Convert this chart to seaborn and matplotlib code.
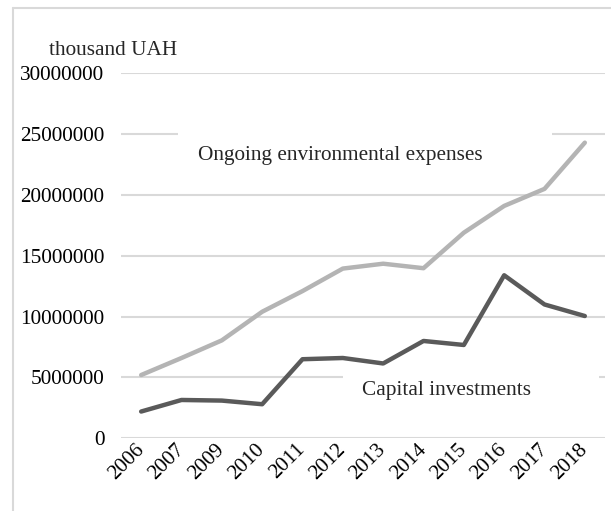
import pandas as pd
import matplotlib.pyplot as plt
import seaborn as sns
from matplotlib.patches import Rectangle

years = ['2006', '2007', '2009', '2010', '2011', '2012', '2013',
         '2014', '2015', '2016', '2017', '2018']
ongoing = [5200000, 6600000, 8050000, 10400000, 12100000, 13950000, 14350000,
           13980000, 16900000, 19100000, 20500000, 24300000]
capital = [2200000, 3150000, 3100000, 2800000, 6500000, 6600000, 6150000,
           8000000, 7670000, 13400000, 11000000, 10050000]
series_names = ['Ongoing environmental expenses', 'Capital investments']

df = pd.concat([
    pd.DataFrame({'year': years, 'value': ongoing, 'series': series_names[0]}),
    pd.DataFrame({'year': years, 'value': capital, 'series': series_names[1]}),
])

sns.set_style('white')
plt.rcParams['font.family'] = ['Liberation Serif', 'DejaVu Serif']
fs = 15.3

fig = plt.figure(figsize=(6.11, 5.11), dpi=100)
ax = fig.add_axes([121 / 611, 72.7 / 511, 484 / 611, 365 / 511])

palette = {series_names[0]: '#b4b4b4', series_names[1]: '#5a5a5a'}
sns.lineplot(data=df, x='year', y='value', hue='series', palette=palette,
             linewidth=3.2, legend=False, ax=ax, zorder=3,
             solid_joinstyle='round', solid_capstyle='round')

ax.set_ylim(0, 30000000)
ax.set_xlim(-0.5, len(years) - 0.5)
ax.set_yticks(range(0, 30000001, 5000000))
ax.set_yticklabels([str(v) for v in range(0, 30000001, 5000000)])
ax.yaxis.grid(True, color='#d9d9d9', linewidth=1.5, zorder=0)
ax.xaxis.grid(False)
for s in ax.spines.values():
    s.set_visible(False)
ax.tick_params(axis='both', length=0, labelsize=fs, colors='black')
ax.tick_params(axis='y', pad=12)
ax.tick_params(axis='x', pad=6)
for lbl in ax.get_xticklabels():
    lbl.set_rotation(45)
    lbl.set_ha('right')
    lbl.set_va('center')
    lbl.set_rotation_mode('anchor')
ax.set_xlabel('')
ax.set_ylabel('')

# white boxes behind the series labels (cut the gridlines)
ax.add_patch(Rectangle((0.118, 0.70), 0.772, 0.15, transform=ax.transAxes,
                       facecolor='white', edgecolor='none', zorder=2))
ax.add_patch(Rectangle((0.458, 0.064), 0.53, 0.136, transform=ax.transAxes,
                       facecolor='white', edgecolor='none', zorder=2))
ax.text(0.4525, 0.774, series_names[0], transform=ax.transAxes,
        ha='center', va='center', fontsize=fs, zorder=4)
ax.text(0.6725, 0.132, series_names[1], transform=ax.transAxes,
        ha='center', va='center', fontsize=fs, zorder=4)

fig.text(48.7 / 611, 1 - 50.7 / 511, 'thousand UAH', ha='left', va='center',
         fontsize=fs)

# chart frame (only top and left edges visible)
fig.add_artist(plt.Line2D([13 / 611, 13 / 611], [0, 1 - 8.3 / 511],
                          transform=fig.transFigure, color='#d9d9d9', linewidth=1.5))
fig.add_artist(plt.Line2D([13 / 611, 1], [1 - 8.3 / 511, 1 - 8.3 / 511],
                          transform=fig.transFigure, color='#d9d9d9', linewidth=1.5))

fig.savefig('out.png', dpi=100)
